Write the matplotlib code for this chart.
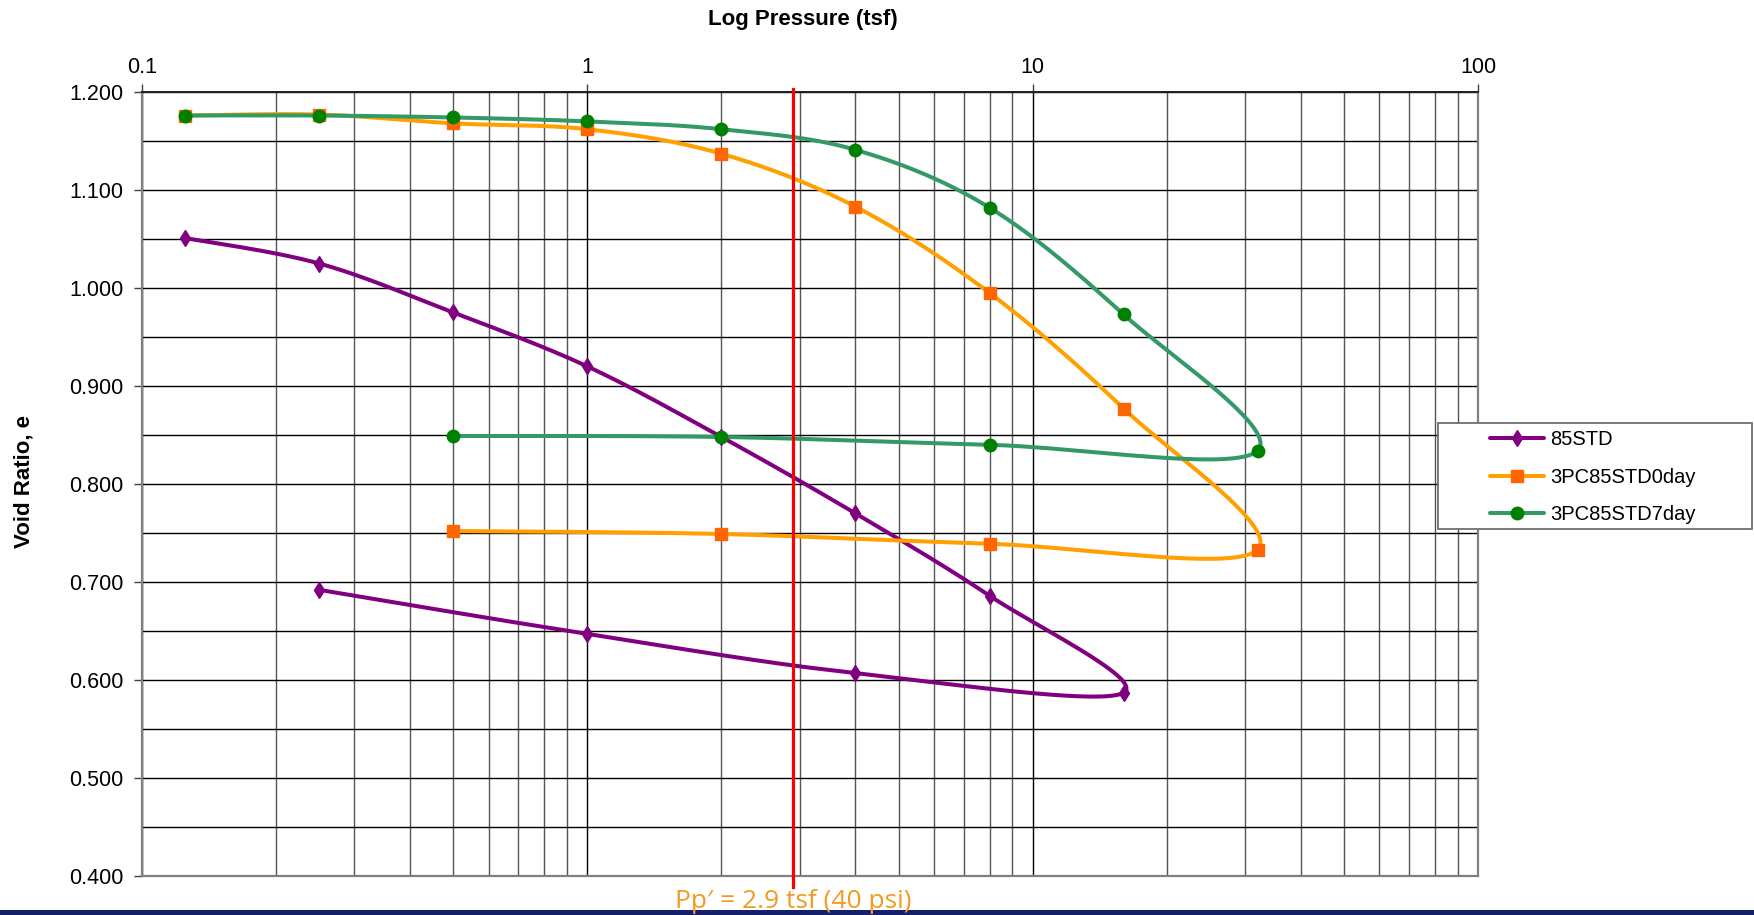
import numpy as np
import matplotlib.pyplot as plt
from matplotlib.patches import Rectangle
from matplotlib.ticker import MultipleLocator, LogLocator, FormatStrFormatter, FixedFormatter, FixedLocator
from matplotlib.transforms import blended_transform_factory

plt.rcParams['font.family'] = ['Liberation Sans', 'DejaVu Sans']

## DATA ##
# 85STD (loading then unloading)
p_85std = [0.125, 0.25, 0.5, 1, 2, 4, 8, 16, 4, 1, 0.25]
e_85std = [1.051, 1.025, 0.975, 0.920, 0.848, 0.770, 0.686, 0.587, 0.607, 0.647, 0.692]

# 3PC85STD0day
p_0day = [0.125, 0.25, 0.5, 1, 2, 4, 8, 16, 32, 8, 2, 0.5]
e_0day = [1.176, 1.177, 1.168, 1.162, 1.137, 1.083, 0.995, 0.877, 0.733, 0.739, 0.749, 0.752]

# 3PC85STD7day
p_7day = [0.125, 0.25, 0.5, 1, 2, 4, 8, 16, 32, 8, 2, 0.5]
e_7day = [1.176, 1.176, 1.174, 1.170, 1.162, 1.141, 1.082, 0.973, 0.834, 0.840, 0.848, 0.849]

labels = ["85STD", "3PC85STD0day", "3PC85STD7day"]
x_ticks = [0.1, 1, 10, 100]
x_tick_labels = ["0.1", "1", "10", "100"]

# preconsolidation pressure
pp_tsf = 2.9
pp_text = "Pp\u2032 = 2.9 tsf (40 psi)"


# Smooth curve through the points (cubic Bezier, done in screen space)
def smoothLine(ax, x, y, n=40):
    pts = ax.transData.transform(np.column_stack([x, y]))
    p = np.vstack([pts[0], pts, pts[-1]])
    segs = []
    t = np.linspace(0, 1, n)[:, None]
    for i in range(1, len(p) - 2):
        p0, p1, p2, p3 = p[i - 1], p[i], p[i + 1], p[i + 2]
        c1 = p1 + (p2 - p0) / 6
        c2 = p2 - (p3 - p1) / 6
        seg = (1 - t)**3 * p1 + 3 * (1 - t)**2 * t * c1 + 3 * (1 - t) * t**2 * c2 + t**3 * p2
        segs.append(seg)
    out = ax.transData.inverted().transform(np.vstack(segs))
    return out[:, 0], out[:, 1]


fig = plt.figure(figsize=(17.54, 9.15), dpi=100)
W, H = 1754, 915
ax = fig.add_axes([142 / W, 1 - 876 / H, 1336 / W, 784 / H])
ax.set_xscale("log")
ax.set_xlim(0.1, 100)
ax.set_ylim(0.4, 1.2)

# Axis ticks and grid
ax.xaxis.tick_top()
ax.xaxis.set_major_locator(FixedLocator(x_ticks))
ax.xaxis.set_major_formatter(FixedFormatter(x_tick_labels))
ax.xaxis.set_minor_locator(LogLocator(base=10, subs=np.arange(2, 10)))
ax.xaxis.set_minor_formatter(FixedFormatter([]))
ax.yaxis.set_major_locator(MultipleLocator(0.1))
ax.yaxis.set_minor_locator(MultipleLocator(0.05))
ax.yaxis.set_major_formatter(FormatStrFormatter("%.3f"))
ax.tick_params(which="major", length=6, width=1, color="#404040", labelsize=15.5)
ax.tick_params(axis="x", which="major", pad=4)
ax.tick_params(axis="y", which="major", pad=7.5)
ax.tick_params(which="minor", length=0)
ax.grid(True, which="major", color="black", linewidth=1.0)
ax.grid(True, which="minor", axis="y", color="black", linewidth=1.0)
ax.grid(True, which="minor", axis="x", color="#555555", linewidth=1.0)
ax.set_axisbelow(True)
for s in ["left", "right", "bottom"]:
    ax.spines[s].set_color("#808080")
    ax.spines[s].set_linewidth(1.6)
ax.spines["top"].set_color("#202020")
ax.spines["top"].set_linewidth(1.4)

# Labels
ax.set_xlabel("Log Pressure (tsf)", fontsize=16, fontweight="bold")
ax.xaxis.set_label_position("top")
ax.xaxis.set_label_coords((803 - 142) / 1336, (876 - 20) / 784)
ax.xaxis.label.set_va("center")
ax.set_ylabel("Void Ratio, e", fontsize=16, fontweight="bold")
ax.yaxis.set_label_coords((24 - 142) / 1336, (876 - 482) / 784)
ax.yaxis.label.set_va("center")

# Curves
series = [
    (p_85std, e_85std, "#800080", "#800080", "d", 8.5),
    (p_0day, e_0day, "#ffa000", "#ff6600", "s", 8),
    (p_7day, e_7day, "#339966", "#008000", "o", 9),
]
handles = []
for (px, ey, lc, mc, mk, ms) in series:
    sx, sy = smoothLine(ax, px, ey)
    ln, = ax.plot(sx, sy, color=lc, linewidth=2.9, solid_capstyle="round", zorder=3)
    mks, = ax.plot(px, ey, linestyle="none", marker=mk, markersize=ms,
                   color=mc, markeredgecolor=mc, zorder=4)
    handles.append((ln, mks))

# Preconsolidation line and note
ax.axvline(pp_tsf, ymin=-0.014, ymax=1.004, color="red", linewidth=2.3, clip_on=False, zorder=5)
trans = blended_transform_factory(ax.transData, ax.transAxes)
ax.text(pp_tsf, -0.033, pp_text, transform=trans, ha="center", va="center",
        fontsize=19, color="#f39b20", family=["Open Sans", "DejaVu Sans"], clip_on=False)

# Legend box
fig.patches.append(Rectangle((1438 / W, 1 - 529 / H), 314 / W, 106 / H, transform=fig.transFigure,
                             facecolor="white", edgecolor="#707070", linewidth=1.3, zorder=4))
fig.legend(handles, labels, loc="upper left", bbox_to_anchor=(1490 / W, 1 - 430 / H),
           frameon=False, fontsize=14.5, borderpad=0, borderaxespad=0, handlelength=2.7,
           handletextpad=0.3, labelspacing=0.93, numpoints=1).set_zorder(5)

# Bar along the bottom edge
fig.patches.append(Rectangle((0, 0), 1, 5 / H, transform=fig.transFigure,
                             facecolor="#14206b", edgecolor="none", zorder=-1))

fig.savefig("out.png", dpi=100)
